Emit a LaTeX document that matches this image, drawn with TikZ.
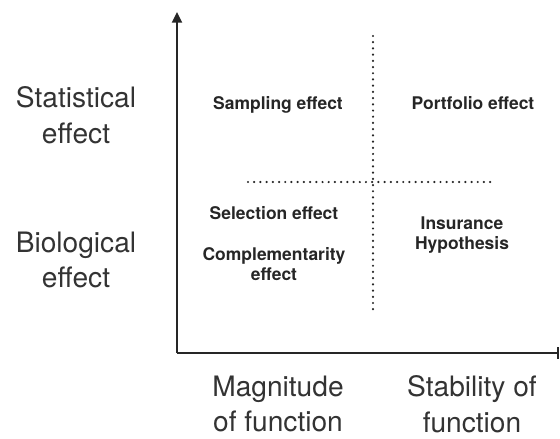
\documentclass[tikz,border=0pt]{standalone}
\usepackage{fontspec}
\setmainfont{TeX Gyre Heros}
\usetikzlibrary{arrows.meta}

\begin{document}
\begin{tikzpicture}[
  x=0.03cm, y=-0.03cm,
  axis/.style={line width=1.7pt, black!85},
  divider/.style={line width=2.1pt, line cap=round, dash pattern=on 0pt off 5.3pt, black!85},
  effect/.style={font=\fontsize{14.9}{17.8}\selectfont\bfseries, align=center, text=black!85, inner sep=0pt},
  axlabel/.style={font=\fontsize{24}{30.6}\selectfont, align=center, text=black!80, inner sep=0pt}
]
\useasboundingbox (0,0) rectangle (560,438);
% axes
\coordinate (o)    at (177,353);
\coordinate (ytip) at (177,12);
\coordinate (xend) at (559,353);
\draw[axis, -{Triangle[length=9pt, width=8.5pt]}] (o) -- (ytip);
\draw[axis, -{Bar[width=10pt]}] (o) -- (xend);
% quadrant dividers
\coordinate (vtop)   at (373,36);
\coordinate (vbot)   at (373,312);
\coordinate (hleft)  at (248,182);
\coordinate (hright) at (495,182);
\draw[divider] (vtop) -- (vbot);
\draw[divider] (hleft) -- (hright);
% axis labels
\node[axlabel] (stat) at (76,115)  {Statistical\\effect};
\node[axlabel] (bio)  at (76,260)  {Biological\\effect};
\node[axlabel] (mag)  at (278,404) {Magnitude\\of function};
\node[axlabel] (stab) at (472,404) {Stability of\\function};
% quadrant entries
\node[effect] (samp) at (278,105) {Sampling effect};
\node[effect] (port) at (473,103) {Portfolio effect};
\node[effect] (sel)  at (274,213) {Selection effect};
\node[effect] (comp) at (274,264) {Complementarity\\effect};
\node[effect] (ins)  at (462,235) {Insurance\\Hypothesis};
\end{tikzpicture}
\end{document}
